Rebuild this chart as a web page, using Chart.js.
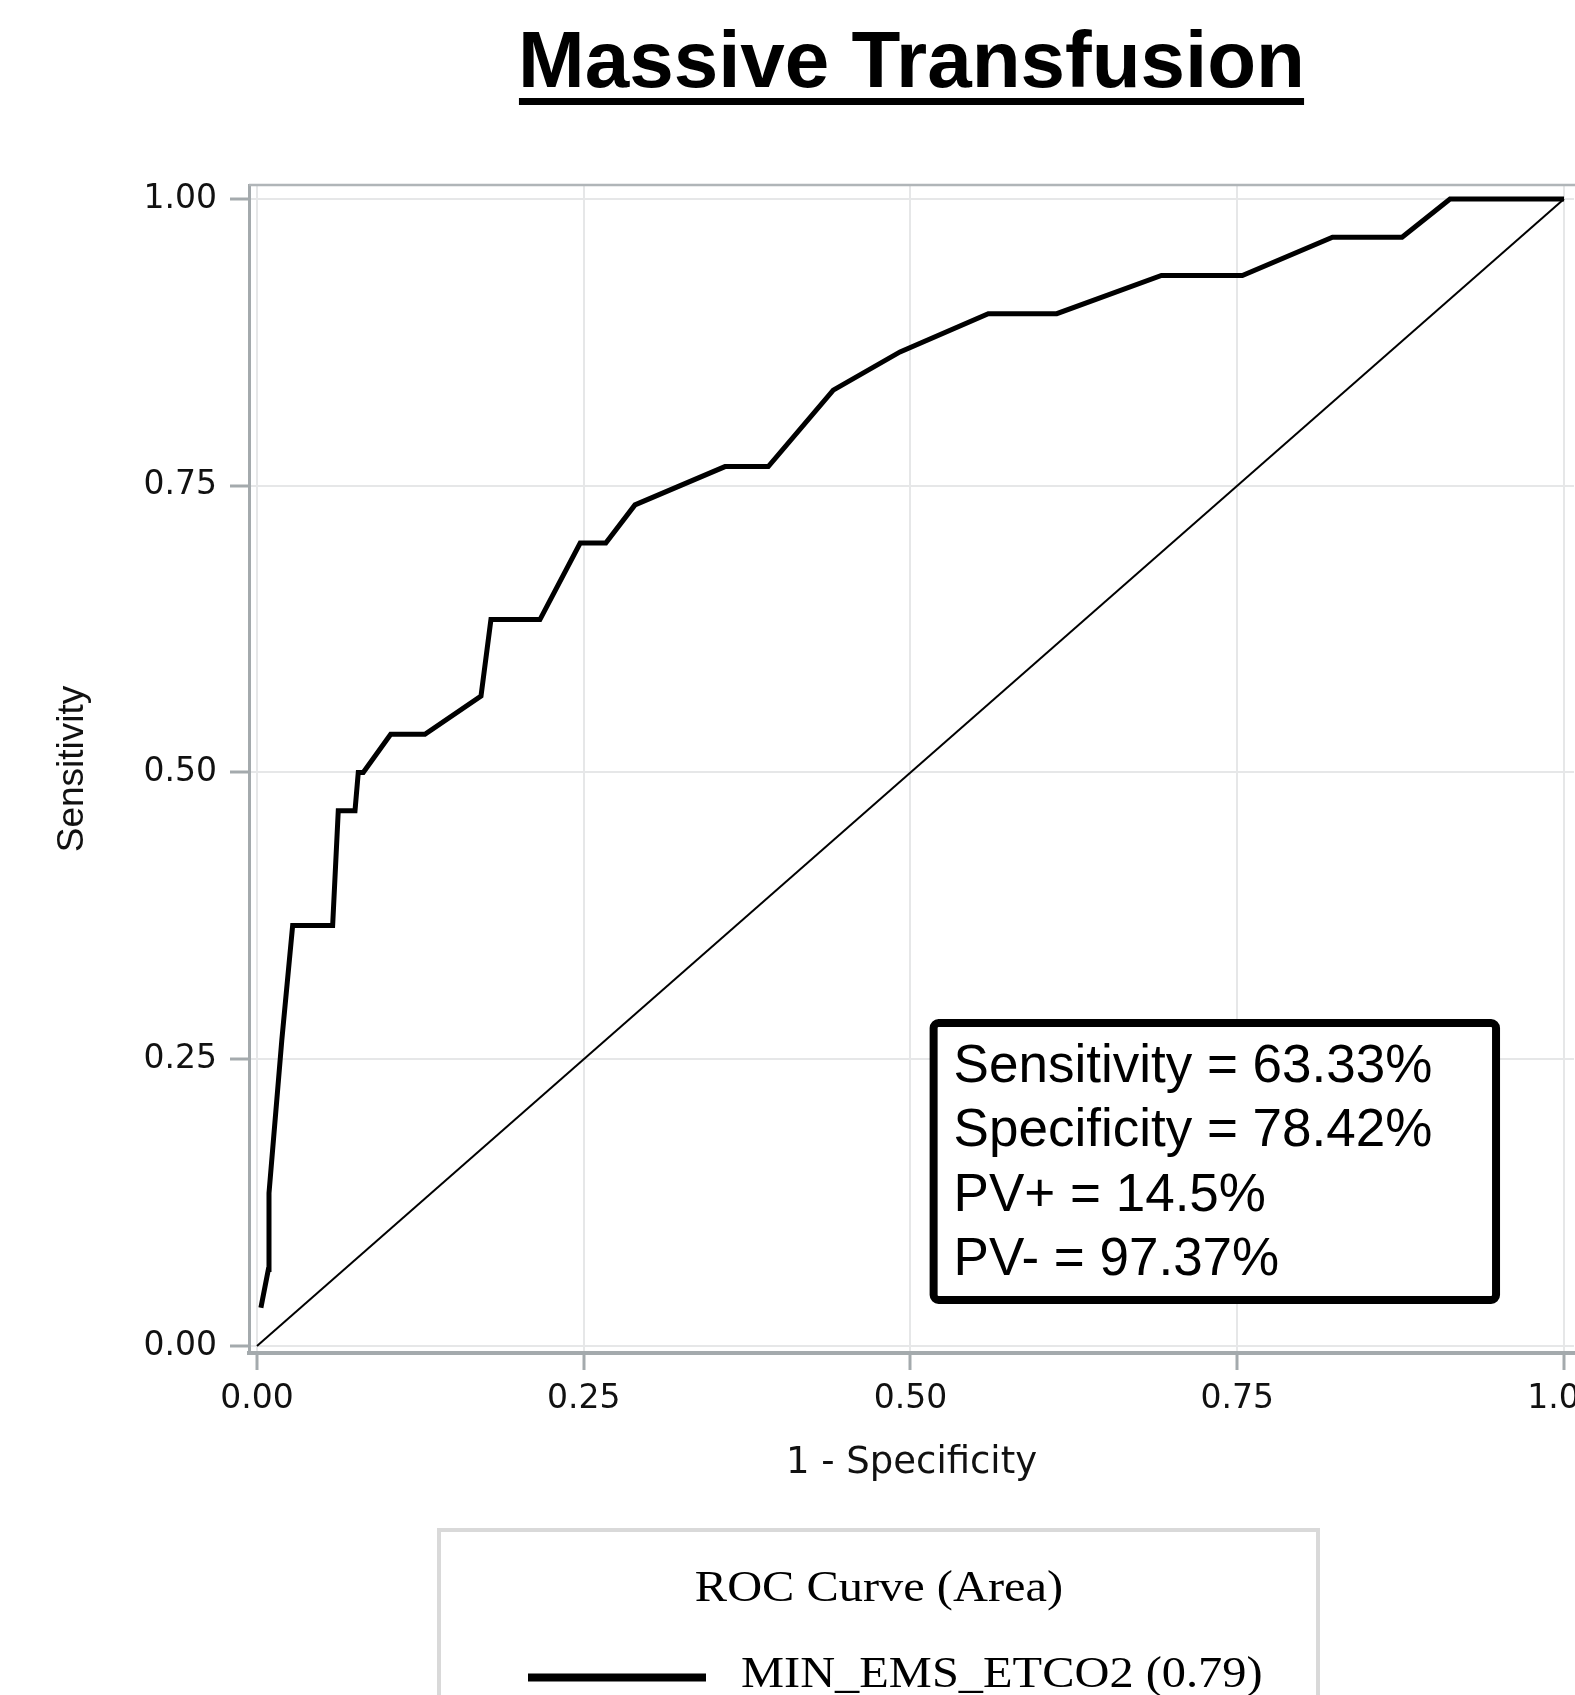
<!DOCTYPE html>
<html>
<head>
<meta charset="utf-8">
<script src="https://cdn.jsdelivr.net/npm/chart.js@4.4.1/dist/chart.umd.min.js"></script>
<style>
html, body { margin: 0; padding: 0; overflow: hidden; background: #ffffff; width: 1575px; height: 1695px; }
#wrap { position: relative; width: 1615px; height: 1695px; }
canvas { display: block; }
</style>
</head>
<body>
<div id="wrap"><canvas id="c" width="1615" height="1695"></canvas></div>
<script>
// ---------- data ----------
const chartTitle = 'Massive Transfusion';
const xAxisTitle = '1 - Specificity';
const yAxisTitle = 'Sensitivity';

const xTickValues = [0, 0.25, 0.5, 0.75, 1.0];
const xTickLabels = ['0.00', '0.25', '0.50', '0.75', '1.00'];
const yTickValues = [0, 0.25, 0.5, 0.75, 1.0];
const yTickLabels = ['0.00', '0.25', '0.50', '0.75', '1.00'];

// ROC curve: 1 - specificity (x) and sensitivity (y)
const rocFpr = [0.003, 0.0087, 0.0092, 0.019, 0.0273, 0.0579, 0.0622, 0.075, 0.0775, 0.0813,
                0.1023, 0.1285, 0.1714, 0.179, 0.2165, 0.2473, 0.2669, 0.2892, 0.3581, 0.3912,
                0.4409, 0.492, 0.5595, 0.6119, 0.692, 0.7539, 0.8229, 0.8761, 0.9128, 1.0];
const rocTpr = [0.0333, 0.0667, 0.1333, 0.2667, 0.3667, 0.3667, 0.4667, 0.4667, 0.5, 0.5,
                0.5333, 0.5333, 0.5667, 0.6333, 0.6333, 0.7, 0.7, 0.7333, 0.7667, 0.7667,
                0.8333, 0.8667, 0.9, 0.9, 0.9333, 0.9333, 0.9667, 0.9667, 1.0, 1.0];

// chance (reference) line
const diagX = [0, 1];
const diagY = [0, 1];

// legend
const legendTitle = 'ROC Curve (Area)';
const seriesNames = ['MIN_EMS_ETCO2'];
const seriesAuc = [0.79];

// statistics box
const statLabels = ['Sensitivity', 'Specificity', 'PV+', 'PV-'];
const statValues = ['63.33%', '78.42%', '14.5%', '97.37%'];

// ---------- chart ----------
const rocData = rocFpr.map((x, i) => ({ x: x, y: rocTpr[i] }));
const diagData = diagX.map((x, i) => ({ x: x, y: diagY[i] }));

const tickFont = { family: '"DejaVu Sans", sans-serif', size: 33 };

const decorPlugin = {
  id: 'decor',
  afterDraw(chart) {
    const ctx = chart.ctx;
    const ca = chart.chartArea;
    const xs = chart.scales.x, ys = chart.scales.y;
    ctx.save();

    // top frame line
    ctx.strokeStyle = '#b0b5b8';
    ctx.lineWidth = 2.5;
    ctx.beginPath();
    ctx.moveTo(ca.left, ca.top);
    ctx.lineTo(ca.right + 10, ca.top);
    ctx.stroke();

    // title underline
    const tb = chart.titleBlock;
    ctx.font = 'bold 79px "Liberation Sans", Arial, sans-serif';
    const tw = ctx.measureText(chartTitle).width;
    const cx = tb.left + tb.width / 2;
    ctx.fillStyle = '#000000';
    ctx.fillRect(cx - tw / 2 - 4, 98, tw + 8, 7);

    // statistics box
    const bx0 = xs.getPixelForValue(0.5177);
    const bx1 = xs.getPixelForValue(0.948);
    const by0 = ys.getPixelForValue(0.2816);
    const by1 = ys.getPixelForValue(0.0401);
    ctx.beginPath();
    if (ctx.roundRect) ctx.roundRect(bx0, by0, bx1 - bx0, by1 - by0, 5);
    else ctx.rect(bx0, by0, bx1 - bx0, by1 - by0);
    ctx.fillStyle = '#ffffff';
    ctx.fill();
    ctx.lineWidth = 8;
    ctx.strokeStyle = '#000000';
    ctx.stroke();
    ctx.fillStyle = '#000000';
    ctx.font = '53px "Liberation Sans", Arial, sans-serif';
    ctx.textAlign = 'left';
    ctx.textBaseline = 'alphabetic';
    statLabels.forEach((lab, i) => {
      ctx.fillText(lab + ' = ' + statValues[i], bx0 + 20, by0 + 59 + i * 64.3);
    });

    // legend box
    ctx.strokeStyle = '#d9d9d9';
    ctx.lineWidth = 4;
    ctx.strokeRect(439, 1530, 879, 300);
    ctx.fillStyle = '#000000';
    ctx.font = '44px "Liberation Serif", "Times New Roman", serif';
    // legend title (slightly widened like the reference)
    ctx.save();
    ctx.translate(879, 1600.5);
    ctx.scale(1.1, 1);
    ctx.textAlign = 'center';
    ctx.fillText(legendTitle, 0, 0);
    ctx.restore();
    // legend item
    seriesNames.forEach((name, i) => {
      const yy = 1677.5 + i * 60;
      ctx.fillRect(528, yy - 4, 178, 8);
      ctx.save();
      ctx.translate(741, yy + 9.5);
      ctx.scale(1.1, 1);
      ctx.textAlign = 'left';
      ctx.fillText(name + ' (' + seriesAuc[i].toFixed(2) + ')', 0, 0);
      ctx.restore();
    });

    ctx.restore();
  }
};

new Chart(document.getElementById('c'), {
  type: 'line',
  data: {
    datasets: [
      {
        label: 'Chance',
        data: diagData,
        borderColor: '#000000',
        borderWidth: 2,
        pointRadius: 0,
        tension: 0,
        fill: false
      },
      {
        label: seriesNames[0],
        data: rocData,
        borderColor: '#000000',
        borderWidth: 5,
        pointRadius: 0,
        tension: 0,
        fill: false,
        borderJoinStyle: 'miter'
      }
    ]
  },
  options: {
    responsive: false,
    animation: false,
    devicePixelRatio: 1,
    layout: { padding: { left: 0, right: 41, top: 17, bottom: 202 } },
    plugins: {
      legend: { display: false },
      tooltip: { enabled: false },
      title: {
        display: true,
        text: chartTitle,
        fullSize: false,
        color: '#000000',
        font: { family: '"Liberation Sans", Arial, sans-serif', size: 80, weight: 'bold', lineHeight: 1.2 },
        padding: { top: 0, bottom: 72 }
      }
    },
    scales: {
      x: {
        type: 'linear',
        min: -0.0061,
        max: 1.00765,
        afterBuildTicks: (scale) => { scale.ticks = xTickValues.map(v => ({ value: v })); },
        afterFit: (scale) => { scale.height = 140; },
        ticks: {
          autoSkip: false,
          maxRotation: 0,
          padding: 10,
          color: '#111111',
          font: tickFont,
          callback: (v) => xTickLabels[xTickValues.indexOf(v)]
        },
        grid: {
          color: '#e6e7e8',
          lineWidth: 2,
          tickColor: '#a4aaad',
          tickWidth: 3,
          tickLength: 17,
          drawTicks: true
        },
        border: { display: true, color: '#a4aaad', width: 4 },
        title: {
          display: true,
          text: xAxisTitle,
          color: '#111111',
          font: { family: '"DejaVu Sans", sans-serif', size: 37, lineHeight: 1.2 },
          padding: { top: 0, bottom: 7 }
        }
      },
      y: {
        type: 'linear',
        min: -0.0061,
        max: 1.0122,
        afterBuildTicks: (scale) => { scale.ticks = yTickValues.map(v => ({ value: v })); },
        afterFit: (scale) => { scale.width = 249; },
        ticks: {
          autoSkip: false,
          padding: 13,
          color: '#111111',
          font: tickFont,
          callback: (v) => yTickLabels[yTickValues.indexOf(v)]
        },
        grid: {
          color: '#e6e7e8',
          lineWidth: 2,
          tickColor: '#a4aaad',
          tickWidth: 3,
          tickLength: 19,
          drawTicks: true
        },
        border: { display: true, color: '#a4aaad', width: 3 },
        title: {
          display: true,
          text: yAxisTitle,
          color: '#111111',
          font: { family: '"Liberation Sans", Arial, sans-serif', size: 37, lineHeight: 1.2 },
          padding: { top: 51, bottom: 0 }
        }
      }
    }
  },
  plugins: [decorPlugin]
});
</script>
</body>
</html>
